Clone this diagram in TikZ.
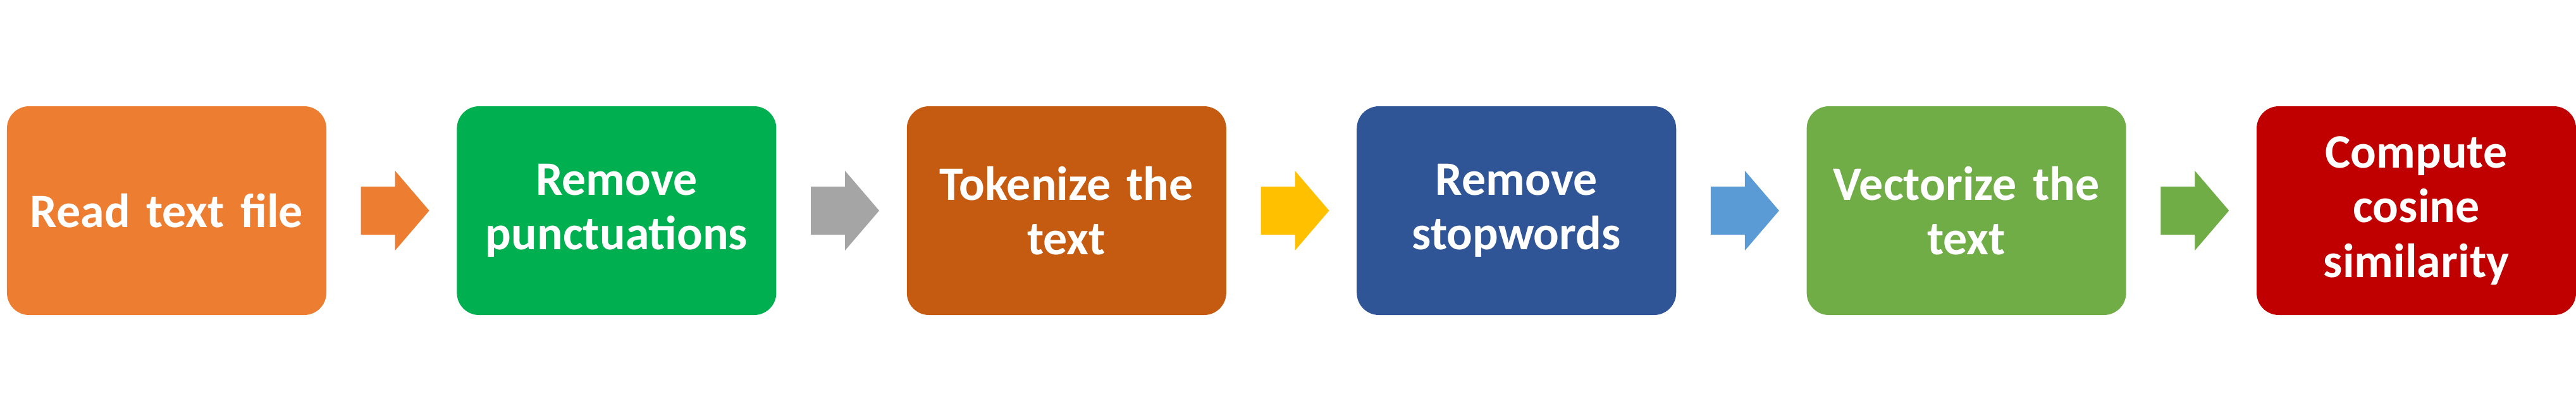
\documentclass[tikz,border=0pt]{standalone}
\usepackage{fontspec}
\setmainfont{Carlito}
\usetikzlibrary{positioning,calc}
\definecolor{readcol}{HTML}{ED7D31}
\definecolor{punctcol}{HTML}{00B050}
\definecolor{tokencol}{HTML}{C55A11}
\definecolor{stopcol}{HTML}{2F5597}
\definecolor{vectorcol}{HTML}{70AD47}
\definecolor{cosinecol}{HTML}{C00000}
\definecolor{graycol}{HTML}{A5A5A5}
\definecolor{yellowcol}{HTML}{FFC000}
\definecolor{lightbluecol}{HTML}{5B9BD5}
\tikzset{
	stage/.style={fill=#1, rounded corners=0.35cm, minimum width=5.05cm, minimum height=3.3cm,
		text width=4.8cm, align=center, text=white, inner sep=0pt,
		font=\bfseries\fontsize{21.6}{24.5}\selectfont},
}
\newcommand{\blockarrow}[2]{%
	\fill[#2] ($(#1.east)+(0.54,0.38)$) -- ++(0.54,0) -- ++(0,0.25) -- ($(#1.east)+(1.62,0)$)
		-- ($(#1.east)+(1.08,-0.63)$) -- ++(0,0.25) -- ($(#1.east)+(0.54,-0.38)$) -- cycle;}
\begin{document}
\begin{tikzpicture}[node distance=2.05cm]
			\useasboundingbox (0,0) rectangle (40.73,6.63);
			\node[stage=readcol] (read) at (2.635,3.30) {Read text file};
			\node[stage=punctcol, right=of read] (punct) {Remove\\punctuations};
			\node[stage=tokencol, right=of punct] (token) {Tokenize the\\text};
			\node[stage=stopcol, right=of token] (stop) {Remove\\stopwords};
			\node[stage=vectorcol, right=of stop] (vector) {Vectorize the\\text};
			\node[stage=cosinecol, right=of vector] (cosine) {Compute\\cosine\\similarity};
			\blockarrow{read}{readcol}
			\blockarrow{punct}{graycol}
			\blockarrow{token}{yellowcol}
			\blockarrow{stop}{lightbluecol}
			\blockarrow{vector}{vectorcol}
		\end{tikzpicture}
\end{document}
